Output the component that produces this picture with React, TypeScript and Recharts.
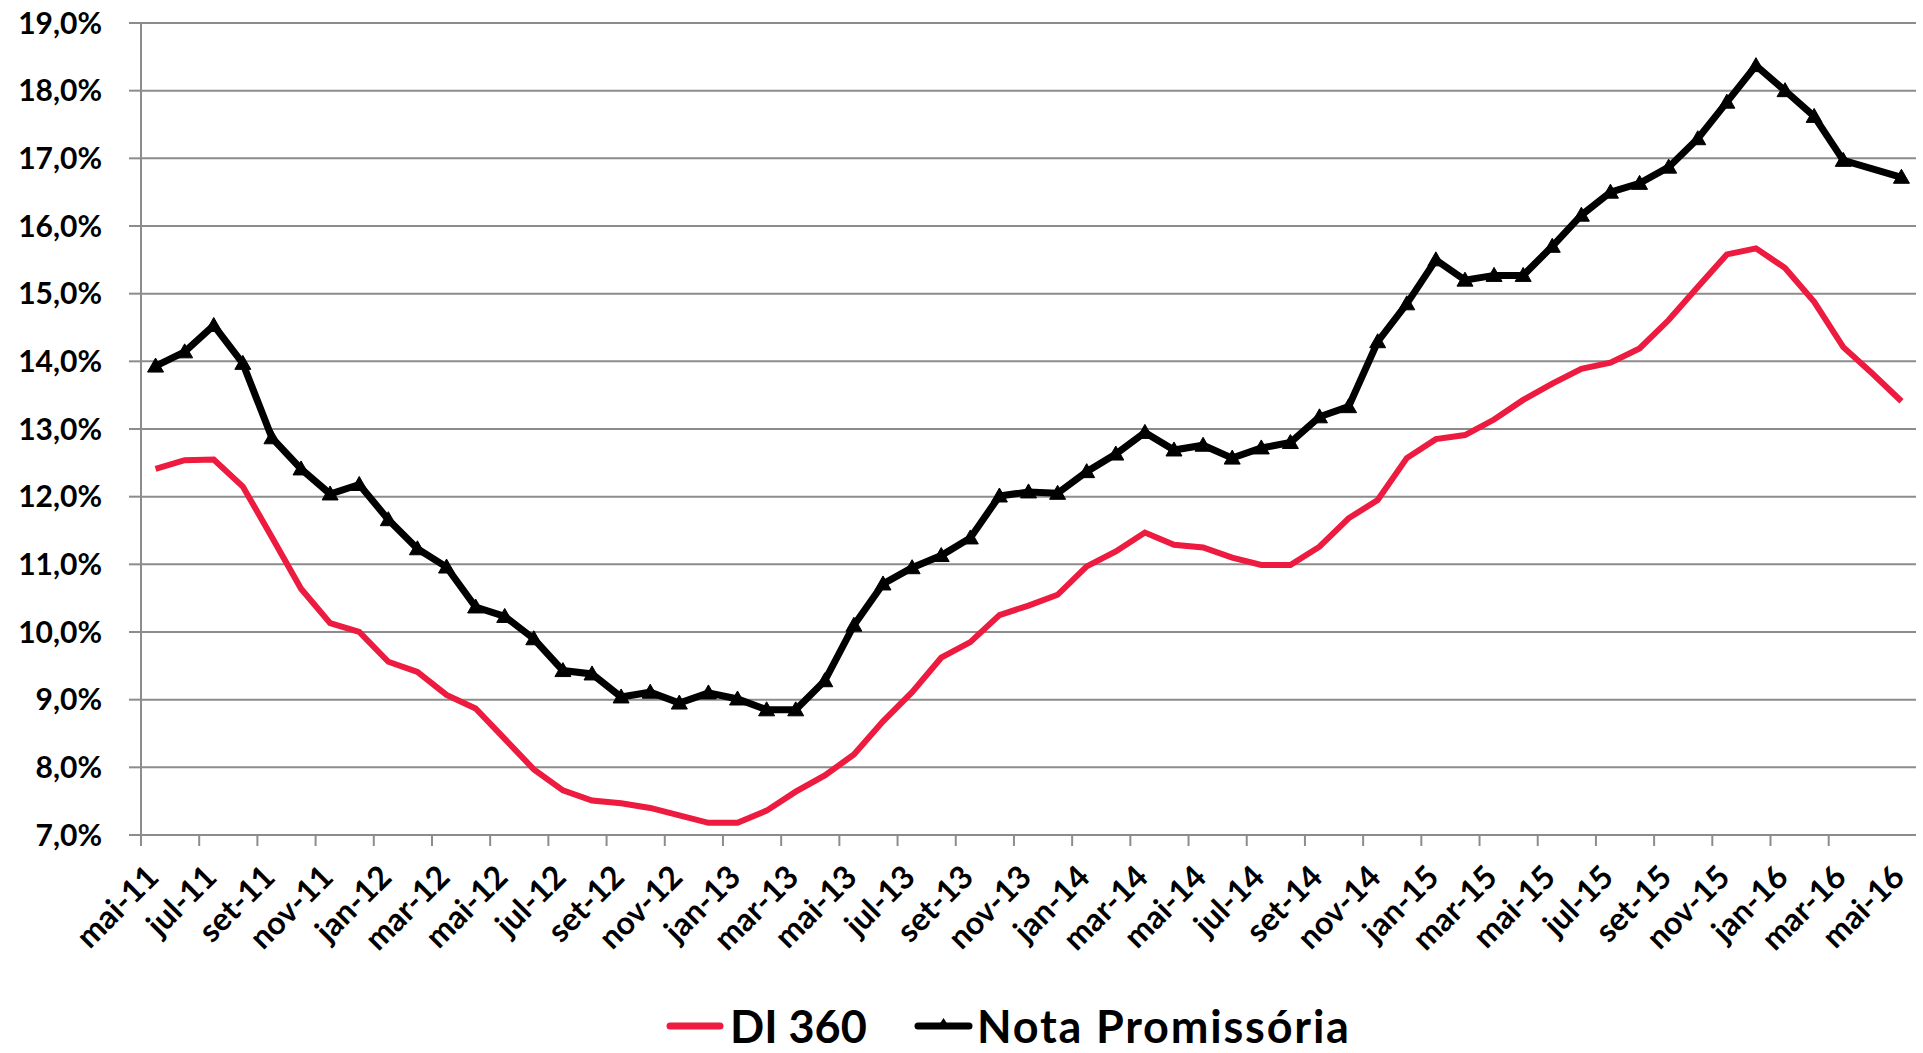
import React from 'react';
import { LineChart, Line, XAxis, YAxis, CartesianGrid, Legend } from 'recharts';

const months = [
  'mai-11','jun-11','jul-11','ago-11','set-11','out-11','nov-11','dez-11',
  'jan-12','fev-12','mar-12','abr-12','mai-12','jun-12','jul-12','ago-12','set-12','out-12','nov-12','dez-12',
  'jan-13','fev-13','mar-13','abr-13','mai-13','jun-13','jul-13','ago-13','set-13','out-13','nov-13','dez-13',
  'jan-14','fev-14','mar-14','abr-14','mai-14','jun-14','jul-14','ago-14','set-14','out-14','nov-14','dez-14',
  'jan-15','fev-15','mar-15','abr-15','mai-15','jun-15','jul-15','ago-15','set-15','out-15','nov-15','dez-15',
  'jan-16','fev-16','mar-16','abr-16','mai-16',
];

const di360 = [
  12.41, 12.54, 12.55, 12.15, 11.40, 10.64, 10.13, 10.00, 9.56, 9.41,
  9.07, 8.87, 8.42, 7.97, 7.66, 7.51, 7.47, 7.40, 7.29, 7.18,
  7.18, 7.36, 7.64, 7.88, 8.19, 8.68, 9.11, 9.62, 9.85, 10.25,
  10.39, 10.55, 10.97, 11.19, 11.47, 11.29, 11.25, 11.10, 10.99, 10.99,
  11.26, 11.68, 11.95, 12.57, 12.85, 12.91, 13.14, 13.43, 13.67, 13.89,
  13.98, 14.19, 14.61, 15.10, 15.58, 15.67, 15.38, 14.88, 14.21, 13.82,
  13.41,
];

const notaPromissoria: (number | null)[] = [
  13.93, 14.14, 14.53, 13.97, 12.87, 12.41, 12.04, 12.18, 11.66, 11.23,
  10.96, 10.37, 10.23, 9.90, 9.43, 9.38, 9.04, 9.11, 8.95, 9.10,
  9.01, 8.85, 8.85, 9.28, 10.10, 10.71, 10.95, 11.13, 11.39, 12.01,
  12.07, 12.05, 12.37, 12.63, 12.95, 12.69, 12.76, 12.57, 12.72, 12.80,
  13.18, 13.33, 14.29, 14.85, 15.50, 15.20, 15.27, 15.27, 15.70, 16.16,
  16.50, 16.63, 16.87, 17.29, 17.83, 18.37, 18.00, 17.62, 16.97, null,
  16.72,
];

const yTicks = [7, 8, 9, 10, 11, 12, 13, 14, 15, 16, 17, 18, 19];
const seriesNames = ['DI 360', 'Nota Promissória'];

const RED = '#EC1B3F';
const GRID = '#8C8C8C';
const FONT = 'Lato, "Open Sans", sans-serif';

const data = months.map((m, i) => ({ idx: i, label: m, di: di360[i], np: notaPromissoria[i] }));
const labelTicks = months.map((_, i) => i).filter((i) => i % 2 === 0);
const boundaryTicks = labelTicks.filter((i) => i < months.length - 1).map((i) => i - 0.5);

const XLabel = (props: any) => {
  const { x, y, payload } = props;
  const ax = x + 5;
  const ay = y + 37;
  return (
    <text
      x={ax}
      y={ay}
      transform={`rotate(-45, ${ax}, ${ay})`}
      textAnchor="end"
      fontFamily={FONT}
      fontWeight={700}
      fontSize={32}
      fill="#000"
    >
      {months[payload.value]}
    </text>
  );
};

const Triangle = (props: any) => {
  const { cx, cy, index, value } = props;
  if (value == null || cx == null || cy == null) return <g key={`t-${index}`} />;
  return (
    <path
      key={`t-${index}`}
      d={`M${cx},${cy - 8} L${cx + 8},${cy + 6} L${cx - 8},${cy + 6} Z`}
      fill="#000"
      stroke="#000"
      strokeWidth={1}
    />
  );
};

const LegendContent = () => (
  <svg width={1923} height={64} style={{ display: 'block' }}>
    <line x1={670} y1={37} x2={720} y2={37} stroke={RED} strokeWidth={7} strokeLinecap="round" />
    <text x={730} y={54} fontFamily={FONT} fontWeight={700} fontSize={45} fill="#000">
      {seriesNames[0]}
    </text>
    <line x1={918} y1={37} x2={969} y2={37} stroke="#000" strokeWidth={7} strokeLinecap="round" />
    <path d="M943.5,29 L950,39 L937,39 Z" fill="#000" />
    <text x={977} y={54} fontFamily={FONT} fontWeight={700} fontSize={45} letterSpacing={1.8} fill="#000">
      {seriesNames[1]}
    </text>
  </svg>
);

export default function App() {
  return (
    <div style={{ position: 'absolute', left: 0, top: 0 }}>
      <LineChart
        width={1923}
        height={1053}
        data={data}
        margin={{ top: 23, right: 7, left: 0, bottom: 0 }}
      >
        <CartesianGrid xAxisId="main" vertical={false} stroke={GRID} strokeWidth={2} />
        <XAxis
          xAxisId="grid"
          dataKey="idx"
          type="number"
          domain={[-0.5, months.length - 0.5]}
          allowDataOverflow
          ticks={boundaryTicks}
          interval={0}
          height={1}
          tick={() => <g />}
          tickSize={11}
          tickLine={{ stroke: GRID, strokeWidth: 2 }}
          axisLine={{ stroke: GRID, strokeWidth: 2 }}
        />
        <XAxis
          xAxisId="main"
          dataKey="idx"
          type="number"
          domain={[-0.5, months.length - 0.5]}
          allowDataOverflow
          ticks={labelTicks}
          interval={0}
          height={153}
          tick={<XLabel />}
          tickLine={false}
          tickMargin={0}
          axisLine={false}
        />
        <YAxis
          type="number"
          domain={[7, 19]}
          ticks={yTicks}
          interval={0}
          width={141}
          tickSize={12}
          tickMargin={27}
          tickFormatter={(v: number) => `${v.toFixed(1).replace('.', ',')}%`}
          tick={{ fontFamily: FONT, fontWeight: 700, fontSize: 30, fill: '#000' }}
          tickLine={{ stroke: GRID, strokeWidth: 2 }}
          axisLine={{ stroke: GRID, strokeWidth: 2 }}
        />
        <Line
          xAxisId="main"
          type="linear"
          dataKey="di"
          name={seriesNames[0]}
          stroke={RED}
          strokeWidth={6}
          dot={false}
          isAnimationActive={false}
        />
        <Line
          xAxisId="main"
          type="linear"
          dataKey="np"
          name={seriesNames[1]}
          stroke="#000"
          strokeWidth={7}
          connectNulls
          dot={<Triangle />}
          isAnimationActive={false}
        />
        <Legend
          verticalAlign="bottom"
          height={64}
          content={<LegendContent />}
          wrapperStyle={{ left: 0, bottom: 0, width: 1923, height: 64 }}
        />
      </LineChart>
    </div>
  );
}
